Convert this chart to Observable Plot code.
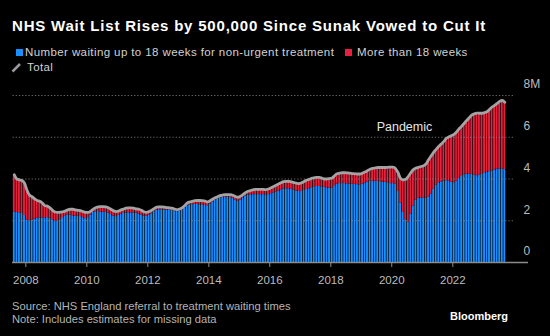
<!DOCTYPE html>
<html>
<head>
<meta charset="utf-8">
<script src="https://cdn.jsdelivr.net/npm/d3@7"></script>
<script src="https://cdn.jsdelivr.net/npm/@observablehq/plot@0.6"></script>
<style>
  html, body { margin: 0; padding: 0; background: #000; }
  body { width: 550px; height: 336px; position: relative; overflow: hidden; font-family: "Liberation Sans", Arial, sans-serif; }
  .abs { position: absolute; white-space: nowrap; }
  #title { left: 12px; top: 18px; font-size: 15px; line-height: 15px; font-weight: bold; color: #fff; letter-spacing: 0.8px; }
  .leg { font-size: 11.5px; line-height: 11px; color: #d2d2d2; letter-spacing: 0.4px; }
  .sw { position: absolute; width: 7px; height: 7px; }
  .foot { font-size: 11.2px; line-height: 11px; color: #b4b4b4; }
  #brand { font-size: 11px; line-height: 11px; font-weight: bold; color: #fff; }
  #chart { position: absolute; left: 0; top: 70px; }
</style>
</head>
<body>
<div id="title" class="abs">NHS Wait List Rises by 500,000 Since Sunak Vowed to Cut It</div>
<div class="sw" style="left:16px; top:49px; background:#1a8fff;"></div>
<div class="abs leg" style="left:25px; top:46.5px;">Number waiting up to 18 weeks for non-urgent treatment</div>
<div class="sw" style="left:345px; top:49px; background:#e8203e;"></div>
<div class="abs leg" style="left:357px; top:46.5px;">More than 18 weeks</div>
<svg class="abs" style="left:11px; top:62px;" width="11" height="11"><line x1="1.5" y1="9.5" x2="9" y2="2" stroke="#9a9a9a" stroke-width="2.5"/></svg>
<div class="abs leg" style="left:27px; top:62.3px;">Total</div>
<div id="chart"></div>
<div class="abs foot" style="left:12px; top:300.7px;">Source: NHS England referral to treatment waiting times</div>
<div class="abs foot" style="left:12px; top:314px;">Note: Includes estimates for missing data</div>
<div id="brand" class="abs" style="left:450px; top:310.7px;">Bloomberg</div>
<script>
// First month of the series
const startMonth = "2007-08";
// Total waiting list (millions), monthly from Aug 2007 to Sep 2023
const total = [
  4.20, 4.00, 3.96, 3.93, 3.80,
  3.45, 3.22, 3.15, 3.05, 2.97, 2.93, 2.85, 2.72, 2.70, 2.62, 2.50, 2.42,
  2.40, 2.41, 2.42, 2.46, 2.52, 2.55, 2.55, 2.52, 2.50, 2.48, 2.44, 2.40,
  2.40, 2.45, 2.55, 2.62, 2.66, 2.68, 2.68, 2.66, 2.62, 2.55, 2.48, 2.44,
  2.46, 2.52, 2.56, 2.60, 2.62, 2.62, 2.60, 2.57, 2.55, 2.50, 2.43, 2.40,
  2.44, 2.50, 2.58, 2.65, 2.66, 2.66, 2.65, 2.63, 2.62, 2.60, 2.56, 2.53,
  2.56, 2.62, 2.72, 2.85, 2.90, 2.93, 2.96, 2.97, 2.97, 2.96, 2.94, 2.90,
  2.96, 3.03, 3.10, 3.15, 3.20, 3.23, 3.25, 3.25, 3.25, 3.22, 3.16, 3.12,
  3.18, 3.26, 3.35, 3.41, 3.45, 3.48, 3.50, 3.50, 3.50, 3.50, 3.49, 3.52,
  3.58, 3.64, 3.70, 3.76, 3.82, 3.87, 3.89, 3.89, 3.86, 3.83, 3.80, 3.78,
  3.82, 3.88, 3.94, 3.98, 4.03, 4.06, 4.08, 4.08, 4.04, 4.00, 4.00, 4.02,
  4.05, 4.15, 4.25, 4.28, 4.30, 4.30, 4.29, 4.28, 4.26, 4.25, 4.24, 4.24,
  4.28, 4.33, 4.40, 4.47, 4.51, 4.53, 4.55, 4.55, 4.55, 4.55, 4.56, 4.57,
  4.57, 4.50, 4.30, 4.02, 3.96, 3.98, 4.12, 4.30, 4.45, 4.52, 4.56, 4.60,
  4.63, 4.72, 4.92, 5.10, 5.28, 5.42, 5.56, 5.68, 5.80, 5.95, 6.02, 6.08,
  6.14, 6.25, 6.40, 6.52, 6.66, 6.80, 6.93, 7.06, 7.12, 7.16, 7.15, 7.15,
  7.18, 7.22, 7.33, 7.45, 7.52, 7.62, 7.72, 7.76, 7.68
];
// Waiting up to 18 weeks (millions), same months
const upTo18 = [
  2.42, 2.40, 2.38, 2.35, 2.25,
  2.02, 2.00, 2.02, 2.08, 2.12, 2.14, 2.13, 2.14, 2.15, 2.12, 2.05, 1.98,
  1.98, 2.05, 2.15, 2.24, 2.26, 2.26, 2.24, 2.22, 2.22, 2.20, 2.15, 2.10,
  2.15, 2.28, 2.40, 2.43, 2.44, 2.42, 2.41, 2.40, 2.36, 2.30, 2.22, 2.20,
  2.25, 2.32, 2.35, 2.37, 2.38, 2.38, 2.37, 2.36, 2.33, 2.28, 2.22, 2.22,
  2.26, 2.33, 2.44, 2.51, 2.53, 2.53, 2.52, 2.52, 2.52, 2.50, 2.46, 2.44,
  2.47, 2.52, 2.62, 2.72, 2.75, 2.77, 2.78, 2.78, 2.77, 2.76, 2.73, 2.72,
  2.80, 2.89, 2.98, 3.05, 3.10, 3.12, 3.12, 3.12, 3.11, 3.08, 3.00, 2.93,
  3.00, 3.10, 3.18, 3.22, 3.24, 3.25, 3.25, 3.25, 3.25, 3.25, 3.24, 3.25,
  3.30, 3.33, 3.36, 3.42, 3.48, 3.52, 3.53, 3.53, 3.50, 3.47, 3.43, 3.40,
  3.40, 3.45, 3.50, 3.53, 3.58, 3.62, 3.64, 3.64, 3.62, 3.60, 3.58, 3.56,
  3.57, 3.68, 3.76, 3.78, 3.78, 3.78, 3.77, 3.76, 3.75, 3.74, 3.73, 3.72,
  3.76, 3.81, 3.85, 3.88, 3.89, 3.89, 3.88, 3.87, 3.85, 3.84, 3.82, 3.78,
  3.78, 3.76, 3.40, 2.85, 2.42, 2.05, 1.93, 2.32, 2.70, 2.98, 3.08, 3.10,
  3.08, 3.08, 3.12, 3.28, 3.50, 3.70, 3.82, 3.86, 3.90, 3.92, 3.90, 3.84,
  3.82, 3.90, 4.02, 4.12, 4.20, 4.23, 4.24, 4.22, 4.18, 4.16, 4.18, 4.22,
  4.30, 4.33, 4.35, 4.38, 4.44, 4.48, 4.48, 4.47, 4.45
];
const yTicks = [0, 2, 4, 6, 8];
const xTickYears = [2008, 2010, 2012, 2014, 2016, 2018, 2020, 2022];
const annotation = [{label: "Pandemic", date: "2020-06-01", value: 6.5}];

const start = d3.utcParse("%Y-%m")(startMonth);
const data = total.map((t, i) => {
  const d = d3.utcMonth.offset(start, i);
  return {
    date: d,
    next: d3.utcMonth.offset(d, 1),
    mid: new Date((+d + +d3.utcMonth.offset(d, 1)) / 2),
    total: t,
    blue: upTo18[i]
  };
});
const first = data[0].date;
const gridEnd = new Date(Date.UTC(2024, 0, 1));

const chart = Plot.plot({
  width: 550,
  height: 220,
  marginLeft: 12,
  marginRight: 22,
  marginTop: 25,
  marginBottom: 28,
  style: {background: "transparent", fontFamily: "Liberation Sans, Arial, sans-serif"},
  x: {type: "utc", domain: [new Date(Date.UTC(2008,0,1)), new Date(Date.UTC(2022,0,1))], range: [25.3, 452.3]},
  y: {domain: [0, 8]},
  marks: [
    Plot.rectY(data, {x1: "date", x2: "next", y1: 0, y2: "blue", fill: "#1a8fff", insetLeft: 0.35, insetRight: 0.35}),
    Plot.rectY(data, {x1: "date", x2: "next", y1: "blue", y2: "total", fill: "#e8203e", insetLeft: 0.35, insetRight: 0.35}),
    Plot.ruleY(yTicks.filter(d => d > 0), {x1: () => first, x2: () => gridEnd, stroke: "#8a8a8a", strokeDasharray: "1.2,2", strokeWidth: 1, strokeOpacity: 0.8}),
    Plot.lineY(data, {x: "mid", y: "total", stroke: "#a3a3a3", strokeWidth: 2.8, curve: "monotone-x"}),
    Plot.ruleY([0], {stroke: "#8c8c8c", strokeWidth: 1.5}),
    Plot.axisX({
      ticks: xTickYears.map(y => new Date(Date.UTC(y, 0, 1))),
      tickFormat: d3.utcFormat("%Y"),
      tickSize: 5, tickPadding: 8.5, stroke: "#8c8c8c", color: "#bdbdbd", fontSize: 11.5
    }),
    Plot.axisY({
      anchor: "right", ticks: yTicks, tickSize: 0, tickPadding: 0, dx: -5, dy: -11,
      tickFormat: d => d === 8 ? "8M" : String(d), color: "#bdbdbd", fontSize: 12, textAnchor: "start", label: null
    }),
    Plot.text(annotation, {x: d => new Date(d.date), y: "value", text: "label", fill: "#e6e6e6", fontSize: 12.5})
  ]
});
document.getElementById("chart").appendChild(chart);
</script>
</body>
</html>
